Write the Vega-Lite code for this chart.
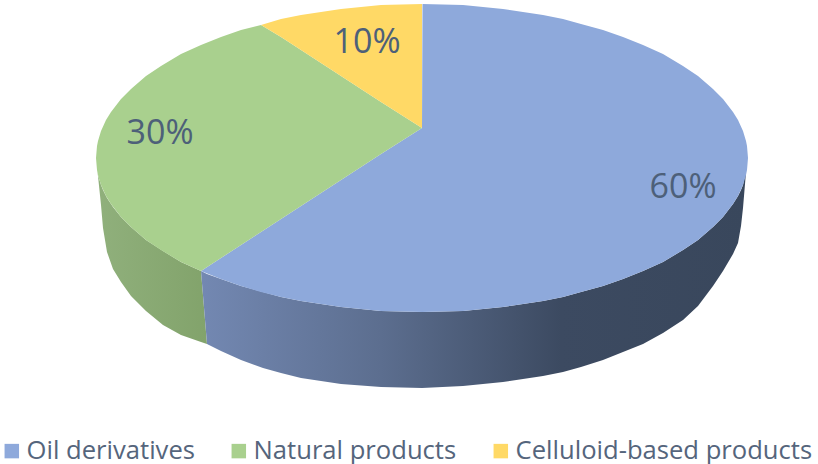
{
"$schema":"https://vega.github.io/schema/vega-lite/v6.json",
"width":818,"height":464,"padding":0,"autosize":{"type":"none"},
"background":"white",
"config":{"view":{"stroke":null}},
"datasets":{
"faces":[
{"product":"Oil derivatives","x":201,"top":271,"bottom":271},{"product":"Oil derivatives","x":221,"top":258,"bottom":279},{"product":"Oil derivatives","x":241,"top":245,"bottom":286},{"product":"Oil derivatives","x":261,"top":232,"bottom":292},{"product":"Oil derivatives","x":281,"top":219,"bottom":297},{"product":"Oil derivatives","x":301,"top":206,"bottom":301},{"product":"Oil derivatives","x":341,"top":180,"bottom":307},{"product":"Oil derivatives","x":381,"top":154,"bottom":311},{"product":"Oil derivatives","x":422,"top":128,"bottom":312},{"product":"Oil derivatives","x":422.5,"top":4,"bottom":312},{"product":"Oil derivatives","x":463,"top":5,"bottom":311},{"product":"Oil derivatives","x":503,"top":9,"bottom":307},{"product":"Oil derivatives","x":543,"top":15,"bottom":301},{"product":"Oil derivatives","x":563,"top":19,"bottom":297},{"product":"Oil derivatives","x":581,"top":24,"bottom":292},{"product":"Oil derivatives","x":603,"top":30,"bottom":286},{"product":"Oil derivatives","x":623,"top":37,"bottom":279},{"product":"Oil derivatives","x":643,"top":45,"bottom":271},{"product":"Oil derivatives","x":663,"top":54,"bottom":262},{"product":"Oil derivatives","x":683,"top":66,"bottom":250},{"product":"Oil derivatives","x":698,"top":76,"bottom":240},{"product":"Oil derivatives","x":713,"top":89,"bottom":227},{"product":"Oil derivatives","x":723,"top":99,"bottom":217},{"product":"Oil derivatives","x":733,"top":112,"bottom":204},{"product":"Oil derivatives","x":738,"top":120,"bottom":196},{"product":"Oil derivatives","x":743,"top":131,"bottom":185},{"product":"Oil derivatives","x":746,"top":141,"bottom":175},{"product":"Oil derivatives","x":747,"top":146,"bottom":170},{"product":"Oil derivatives","x":748,"top":158,"bottom":158},
{"product":"Natural products","x":96,"top":158,"bottom":158},{"product":"Natural products","x":97,"top":146,"bottom":170},{"product":"Natural products","x":98,"top":141,"bottom":175},{"product":"Natural products","x":101,"top":131,"bottom":185},{"product":"Natural products","x":106,"top":120,"bottom":196},{"product":"Natural products","x":111,"top":112,"bottom":204},{"product":"Natural products","x":121,"top":99,"bottom":217},{"product":"Natural products","x":131,"top":89,"bottom":227},{"product":"Natural products","x":146,"top":76,"bottom":240},{"product":"Natural products","x":161,"top":66,"bottom":250},{"product":"Natural products","x":181,"top":54,"bottom":262},{"product":"Natural products","x":201,"top":45,"bottom":271},{"product":"Natural products","x":221,"top":37,"bottom":258},{"product":"Natural products","x":241,"top":30,"bottom":245},{"product":"Natural products","x":261,"top":25,"bottom":232},{"product":"Natural products","x":281,"top":37,"bottom":219},{"product":"Natural products","x":301,"top":50,"bottom":206},{"product":"Natural products","x":341,"top":76,"bottom":180},{"product":"Natural products","x":381,"top":102,"bottom":154},{"product":"Natural products","x":422,"top":128,"bottom":128},
{"product":"Celluloid-based products","x":261,"top":25,"bottom":25},{"product":"Celluloid-based products","x":281,"top":19,"bottom":37},{"product":"Celluloid-based products","x":301,"top":15,"bottom":50},{"product":"Celluloid-based products","x":341,"top":9,"bottom":76},{"product":"Celluloid-based products","x":381,"top":5,"bottom":102},{"product":"Celluloid-based products","x":422,"top":4,"bottom":128}
],
"greenSide":[
{"x":97,"top":170,"bottom":170},{"x":98,"top":175,"bottom":176},{"x":101,"top":185,"bottom":205},{"x":103,"top":190,"bottom":228},{"x":107,"top":198,"bottom":252},{"x":113,"top":207,"bottom":269},{"x":121,"top":217,"bottom":282},{"x":131,"top":227,"bottom":296},{"x":146,"top":240,"bottom":311},{"x":163,"top":251,"bottom":325},{"x":181,"top":262,"bottom":335},{"x":201,"top":271,"bottom":342},{"x":207,"top":344,"bottom":344}
],
"blueSide":[
{"x":201,"top":271,"bottom":271},{"x":207,"top":274,"bottom":344},{"x":221,"top":279,"bottom":351},{"x":241,"top":286,"bottom":360},{"x":263,"top":292,"bottom":368},{"x":281,"top":297,"bottom":373},{"x":301,"top":301,"bottom":378},{"x":341,"top":307,"bottom":384},{"x":381,"top":311,"bottom":387},{"x":422,"top":312,"bottom":388},{"x":463,"top":311,"bottom":386},{"x":503,"top":307,"bottom":382},{"x":543,"top":301,"bottom":376},{"x":563,"top":297,"bottom":372},{"x":581,"top":292,"bottom":367},{"x":603,"top":286,"bottom":360},{"x":623,"top":279,"bottom":352},{"x":643,"top":271,"bottom":344},{"x":663,"top":262,"bottom":333},{"x":683,"top":250,"bottom":320},{"x":698,"top":240,"bottom":306},{"x":713,"top":227,"bottom":286},{"x":723,"top":217,"bottom":271},{"x":733,"top":204,"bottom":254},{"x":738,"top":196,"bottom":243},{"x":741,"top":190,"bottom":226},{"x":743,"top":185,"bottom":208},{"x":746,"top":170,"bottom":172}
],
"labels":[
{"label":"60%","x":683,"y":188},{"label":"30%","x":160,"y":134},{"label":"10%","x":367,"y":43}
]
},
"layer":[
{"data":{"name":"greenSide"},
"mark":{"type":"area","color":{"x1":0,"y1":0,"x2":1,"y2":0,"gradient":"linear","stops":[{"offset":0,"color":"#90B07C"},{"offset":1,"color":"#82A36B"}]}},
"encoding":{"x":{"field":"x","type":"quantitative","scale":{"domain":[0,818],"nice":false,"zero":false},"axis":null},"y":{"field":"top","type":"quantitative","scale":{"domain":[464,0],"nice":false,"zero":false},"axis":null},"y2":{"field":"bottom"}}},
{"data":{"name":"blueSide"},
"mark":{"type":"area","color":{"x1":0,"y1":0,"x2":1,"y2":0,"gradient":"linear","stops":[{"offset":0,"color":"#7388B2"},{"offset":0.33,"color":"#5C6E8F"},{"offset":0.66,"color":"#3C4A61"},{"offset":1,"color":"#39475C"}]}},
"encoding":{"x":{"field":"x","type":"quantitative"},"y":{"field":"top","type":"quantitative"},"y2":{"field":"bottom"}}},
{"data":{"name":"faces"},
"mark":{"type":"area"},
"encoding":{"x":{"field":"x","type":"quantitative"},"y":{"field":"top","type":"quantitative"},"y2":{"field":"bottom"},
"color":{"field":"product","type":"nominal","scale":{"domain":["Oil derivatives","Natural products","Celluloid-based products"],"range":["#8EA9DB","#A9D08E","#FFD966"]},
"legend":{"title":null,"orient":"none","legendX":-1,"legendY":438,"direction":"horizontal","columns":3,"symbolType":"square","symbolSize":210,"symbolStrokeWidth":0,"labelFont":"Open Sans","labelFontSize":25.6,"labelColor":"#55657C","labelOffset":2,"columnPadding":31,"padding":0,"labelLimit":400}}}},
{"data":{"name":"labels"},
"mark":{"type":"text","font":"Open Sans","fontSize":34,"color":"#4D6079","align":"center","baseline":"middle"},
"encoding":{"x":{"field":"x","type":"quantitative"},"y":{"field":"y","type":"quantitative"},"text":{"field":"label"}}}
]
}
